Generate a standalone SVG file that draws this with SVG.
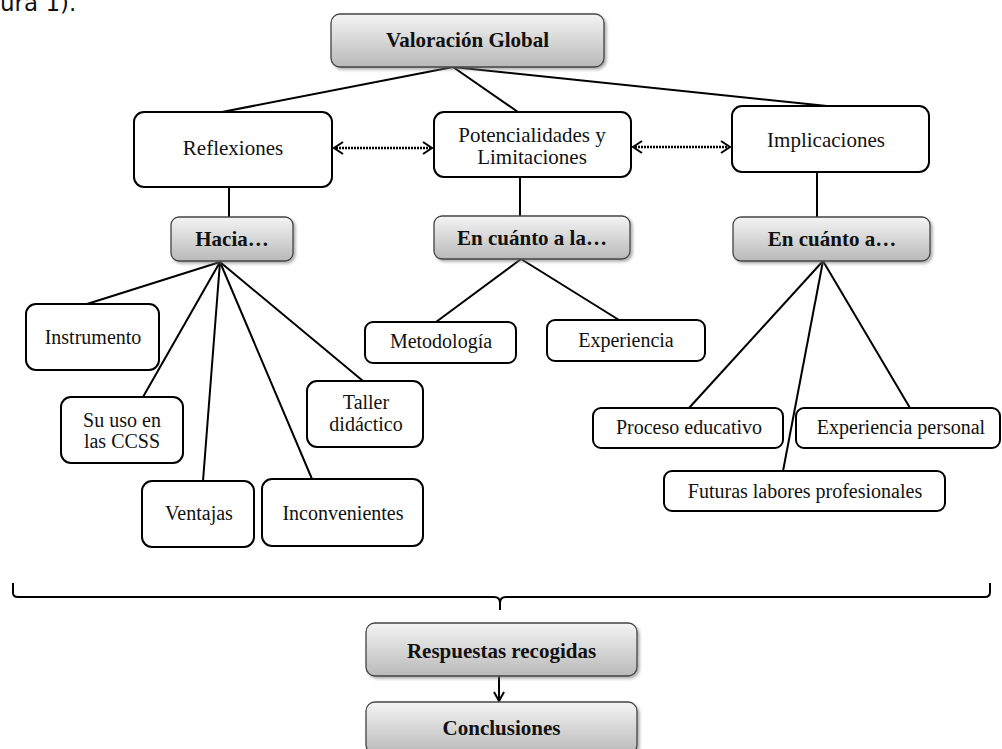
<svg xmlns="http://www.w3.org/2000/svg" width="1002" height="749" viewBox="0 0 1002 749">
<style>
  .box{fill:#fff;stroke:#000;stroke-width:2}
  .gbox{fill:url(#g);stroke:#444;stroke-width:1.3;filter:url(#sh)}
  .t{font-family:"Liberation Serif","Times New Roman",serif;font-size:20px;fill:#111;text-anchor:middle}
  .b{font-family:"Liberation Serif","Times New Roman",serif;font-size:21px;font-weight:bold;fill:#111;text-anchor:middle}
  .ln{stroke:#000;stroke-width:2;fill:none}
  .dot{stroke:#000;stroke-width:2.5;stroke-dasharray:2 1;fill:none}
  .hd{stroke:#000;stroke-width:2;fill:none}
</style>
<defs>
  <linearGradient id="g" x1="0" y1="0" x2="0" y2="1">
    <stop offset="0" stop-color="#f4f4f4"/>
    <stop offset="1" stop-color="#b9b9b9"/>
  </linearGradient>
  <filter id="sh" x="-10%" y="-20%" width="130%" height="150%">
    <feDropShadow dx="2" dy="2" stdDeviation="1.5" flood-color="#777" flood-opacity="0.6"/>
  </filter>
</defs>
<rect width="1002" height="749" fill="#fff"/>
<text x="0" y="10.5" style="font-family:'DejaVu Sans',Verdana,sans-serif;font-size:23px;fill:#111">ura 1).</text>

<g id="connectors">
  <line class="ln" x1="453" y1="67" x2="222" y2="112"/>
  <line class="ln" x1="453" y1="67" x2="518" y2="112"/>
  <line class="ln" x1="453" y1="67" x2="827" y2="106"/>
  <line class="ln" x1="229" y1="187" x2="229" y2="217"/>
  <line class="ln" x1="520" y1="177" x2="520" y2="216"/>
  <line class="ln" x1="817" y1="172" x2="817" y2="217"/>
  <line class="ln" x1="220" y1="262" x2="87" y2="304"/>
  <line class="ln" x1="220" y1="262" x2="143" y2="397"/>
  <line class="ln" x1="220" y1="262" x2="203" y2="481"/>
  <line class="ln" x1="220" y1="262" x2="312" y2="479"/>
  <line class="ln" x1="220" y1="262" x2="363" y2="381"/>
  <line class="ln" x1="521" y1="259" x2="436" y2="322"/>
  <line class="ln" x1="521" y1="259" x2="619" y2="320"/>
  <line class="ln" x1="823" y1="261" x2="689" y2="408"/>
  <line class="ln" x1="823" y1="261" x2="783" y2="471"/>
  <line class="ln" x1="823" y1="261" x2="910" y2="408"/>
  <line class="dot" x1="336" y1="148" x2="430" y2="148"/>
  <path class="hd" d="M343,142 L334,148 L343,154"/>
  <path class="hd" d="M423,142 L432,148 L423,154"/>
  <line class="dot" x1="635" y1="147" x2="728" y2="147"/>
  <path class="hd" d="M642,141 L633,147 L642,153"/>
  <path class="hd" d="M721,141 L730,147 L721,153"/>
  <path class="ln" d="M13,583 L13,593 Q13,597 18,597 L494,597 Q500,597 500,603 L500,610 M500,603 Q500,597 506,597 L985,597 Q990,597 990,592 L990,583"/>
  <line class="ln" x1="499" y1="676" x2="499" y2="700"/>
  <path class="hd" d="M494,692 L499,701 L504,692"/>
</g>

<g id="n-valoracion"><rect class="gbox" x="331" y="14" width="273" height="53" rx="9"/><text class="b" x="467.5" y="47">Valoración Global</text></g>
<g id="n-reflexiones"><rect class="box" x="134" y="112" width="198" height="75" rx="10"/><text class="t" x="233" y="155" style="font-size:21px">Reflexiones</text></g>
<g id="n-potencialidades"><rect class="box" x="434" y="112" width="197" height="65" rx="10"/><text class="t" x="532" y="142" style="font-size:21px">Potencialidades y</text><text class="t" x="532" y="164" style="font-size:21px">Limitaciones</text></g>
<g id="n-implicaciones"><rect class="box" x="732" y="106" width="197" height="66" rx="10"/><text class="t" x="826" y="147" style="font-size:21px">Implicaciones</text></g>
<g id="n-hacia"><rect class="gbox" x="171" y="217" width="122" height="44" rx="8"/><text class="b" x="232" y="246">Hacia…</text></g>
<g id="n-encuantoala"><rect class="gbox" x="434" y="216" width="196" height="43" rx="8"/><text class="b" x="532" y="245">En cuánto a la…</text></g>
<g id="n-encuantoa"><rect class="gbox" x="733" y="217" width="197" height="44" rx="8"/><text class="b" x="832" y="246">En cuánto a…</text></g>
<g id="n-instrumento"><rect class="box" x="26" y="304" width="133" height="66" rx="10"/><text class="t" x="93" y="344">Instrumento</text></g>
<g id="n-suuso"><rect class="box" x="61" y="397" width="122" height="66" rx="10"/><text class="t" x="122" y="427">Su uso en</text><text class="t" x="122" y="448">las CCSS</text></g>
<g id="n-ventajas"><rect class="box" x="142" y="481" width="112" height="66" rx="10"/><text class="t" x="199" y="520">Ventajas</text></g>
<g id="n-inconvenientes"><rect class="box" x="262" y="479" width="161" height="67" rx="10"/><text class="t" x="343" y="520">Inconvenientes</text></g>
<g id="n-taller"><rect class="box" x="307" y="381" width="116" height="66" rx="10"/><text class="t" x="366" y="409">Taller</text><text class="t" x="366" y="431">didáctico</text></g>
<g id="n-metodologia"><rect class="box" x="365" y="322" width="151" height="41" rx="8"/><text class="t" x="441" y="348">Metodología</text></g>
<g id="n-experiencia"><rect class="box" x="547" y="320" width="158" height="41" rx="8"/><text class="t" x="626" y="347">Experiencia</text></g>
<g id="n-proceso"><rect class="box" x="593" y="408" width="190" height="40" rx="8"/><text class="t" x="689" y="434">Proceso educativo</text></g>
<g id="n-exppersonal"><rect class="box" x="796" y="408" width="204" height="40" rx="8"/><text class="t" x="901" y="434">Experiencia personal</text></g>
<g id="n-futuras"><rect class="box" x="664" y="471" width="281" height="40" rx="8"/><text class="t" x="805" y="498">Futuras labores profesionales</text></g>
<g id="n-respuestas"><rect class="gbox" x="366" y="623" width="271" height="53" rx="9"/><text class="b" x="501.5" y="658">Respuestas recogidas</text></g>
<g id="n-conclusiones"><rect class="gbox" x="366" y="702" width="271" height="52" rx="9"/><text class="b" x="501.5" y="735">Conclusiones</text></g>
</svg>
